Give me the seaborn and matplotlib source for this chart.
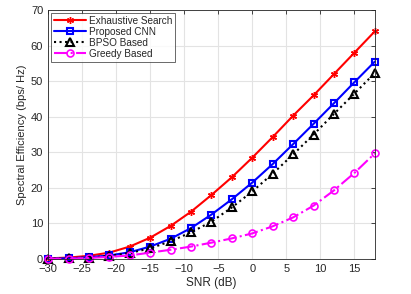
import numpy as np
import pandas as pd
import matplotlib
matplotlib.use("Agg")
import matplotlib.pyplot as plt
import seaborn as sns

snr = [-30, -27, -24, -21, -18, -15, -12, -9, -6, -3, 0, 3, 6, 9, 12, 15, 18]
exhaustive = [0.2, 0.4, 0.9, 1.8, 3.5, 6.0, 9.3, 13.3, 18.0, 23.0, 28.5, 34.3, 40.3, 46.0, 52.0, 58.0, 64.0]
cnn = [0.1, 0.2, 0.5, 1.0, 1.9, 3.5, 5.7, 8.7, 12.5, 16.8, 21.5, 26.7, 32.3, 38.0, 43.8, 49.7, 55.5]
bpso = [0.1, 0.2, 0.4, 0.9, 1.7, 3.0, 5.0, 7.5, 10.5, 14.5, 19.0, 24.0, 29.4, 35.0, 40.8, 46.5, 52.3]
greedy = [0.05, 0.1, 0.3, 0.6, 1.0, 1.8, 2.6, 3.5, 4.6, 5.8, 7.2, 9.2, 11.7, 15.0, 19.3, 24.2, 29.7]
names = ["Exhaustive Search", "Proposed CNN", "BPSO Based", "Greedy Based"]
xticks = [-30, -25, -20, -15, -10, -5, 0, 5, 10, 15]
yticks = [0, 10, 20, 30, 40, 50, 60, 70]

sns.set_style("white")
plt.rcParams['font.family'] = ['Liberation Sans', 'DejaVu Sans']

df = pd.DataFrame({"SNR": snr * 4,
                   "SE": exhaustive + cnn + bpso + greedy,
                   "Method": sum([[n] * len(snr) for n in names], [])})

fig = plt.figure(figsize=(4.11, 2.94), dpi=100)
ax = fig.add_axes([0.117, 0.119, 0.795, 0.847])

styles = {
    "Exhaustive Search": dict(color="#ff0000", ls="-", marker=(6, 2, 0), ms=5, mfc="none", mew=1.0, lw=1.5),
    "Proposed CNN": dict(color="#0000ff", ls="-", marker="s", ms=5, mfc="none", mew=1.5, lw=1.5),
    "BPSO Based": dict(color="black", ls=":", marker="^", ms=6, mfc="none", mew=1.5, lw=1.5),
    "Greedy Based": dict(color="#ff00ff", ls="-.", marker="o", ms=5, mfc="none", mew=1.2, lw=1.5),
}
for n in names:
    st = styles[n]
    sub = df[df["Method"] == n]
    sns.lineplot(data=sub, x="SNR", y="SE", ax=ax, color=st["color"], linestyle=st["ls"],
                 marker=st["marker"], markersize=st["ms"], markerfacecolor=st["mfc"],
                 markeredgecolor=st["color"], markeredgewidth=st["mew"], linewidth=st["lw"],
                 label=n, clip_on=False)

ax.set_xlim(-30, 18)
ax.set_ylim(0, 70)
ax.set_xticks(xticks)
ax.set_yticks(yticks)
ax.grid(True, color="#e3e3e3", linewidth=0.8)
ax.tick_params(direction="in", top=True, right=True, length=3, labelsize=8, colors="#262626", width=0.6)
for s in ax.spines.values():
    s.set_color("#262626")
    s.set_linewidth(0.6)
ax.set_xlabel("SNR (dB)", fontsize=8.5, color="#262626", labelpad=2)
ax.set_ylabel("Spectral Efficiency (bps/ Hz)", fontsize=8, color="#262626", labelpad=3)
leg = ax.legend(loc="upper left", fontsize=7.2, frameon=True, fancybox=False, edgecolor="#262626",
                borderpad=0.3, labelspacing=0.1, handlelength=3.2, handletextpad=0.3,
                borderaxespad=0.3)
leg.get_frame().set_linewidth(0.6)

fig.savefig("out.png", dpi=100)
